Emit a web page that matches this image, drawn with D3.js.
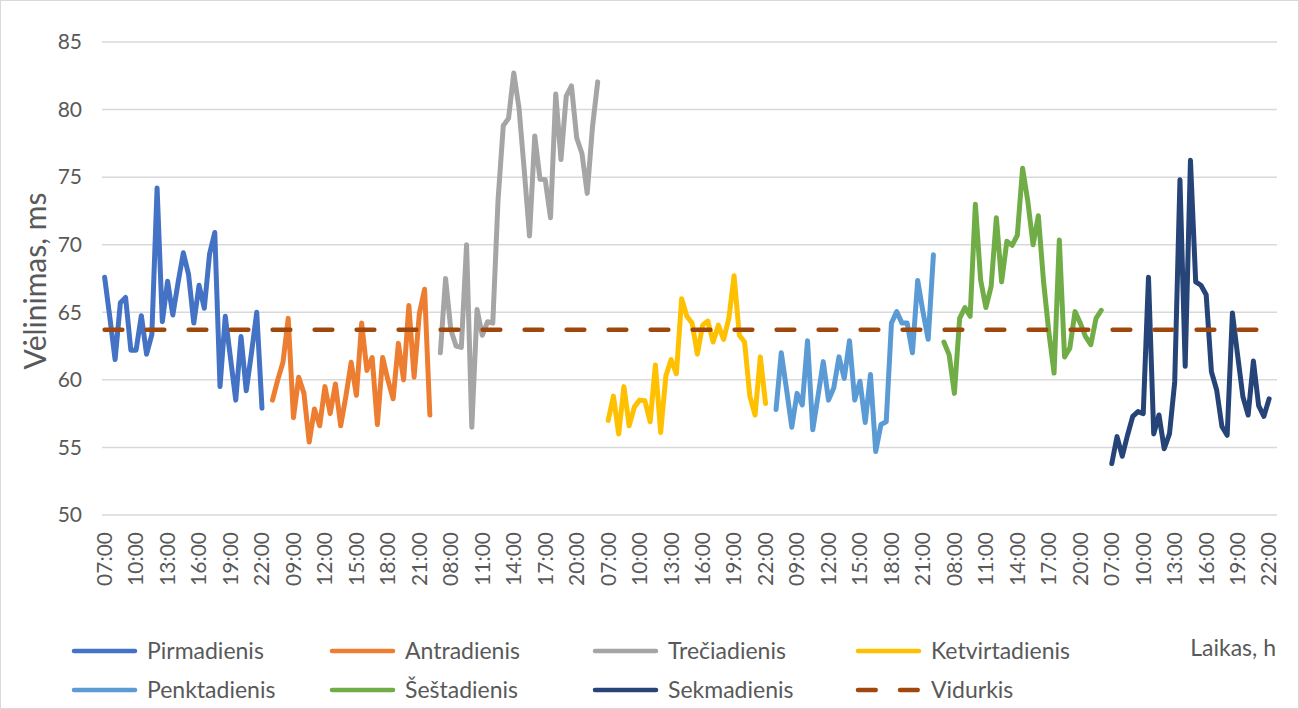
<!DOCTYPE html>
<html>
<head>
<meta charset="utf-8">
<script src="https://cdn.jsdelivr.net/npm/d3@7"></script>
<style>
  html, body { margin: 0; padding: 0; background: #fff; }
  svg { display: block; }
  text { font-family: Lato, "Noto Sans", sans-serif; fill: #595959; }
</style>
</head>
<body>
<svg id="chart" width="1299" height="709"></svg>
<script>
// Half-hour slots of one day, 07:00 .. 22:30
const slots = ["07:00","07:30","08:00","08:30","09:00","09:30","10:00","10:30",
  "11:00","11:30","12:00","12:30","13:00","13:30","14:00","14:30",
  "15:00","15:30","16:00","16:30","17:00","17:30","18:00","18:30",
  "19:00","19:30","20:00","20:30","21:00","21:30","22:00","22:30"];

const days = ["Pirmadienis","Antradienis","Trečiadienis","Ketvirtadienis",
  "Penktadienis","Šeštadienis","Sekmadienis"];

const dayColors = ["#4472C4","#ED7D31","#A5A5A5","#FFC000","#5B9BD5","#70AD47","#264478"];

// Delay (ms) per half hour, 07:00 .. 22:00
const pirmadienis = [67.6,64.6,61.5,65.7,66.1,62.2,62.2,64.75,61.9,63.35,74.2,64.3,67.3,64.8,67.2,69.4,
  67.8,64.2,67.0,65.3,69.3,70.9,59.5,64.7,61.6,58.5,63.2,59.2,62.0,65.0,57.9];
const antradienis = [58.5,60.0,61.3,64.55,57.2,60.2,59.0,55.4,57.85,56.6,59.5,57.5,59.7,56.6,58.8,61.3,
  58.85,64.2,60.7,61.65,56.7,61.65,60.0,58.6,62.7,60.0,65.5,60.2,64.9,66.7,57.4];
const treciadienis = [62.0,67.5,63.7,62.5,62.4,70.0,56.5,65.2,63.3,64.3,64.2,73.3,78.8,79.35,82.7,80.1,
  75.5,70.65,78.05,74.85,74.8,72.0,81.15,76.3,81.0,81.75,77.9,76.75,73.8,78.7,82.05];
const ketvirtadienis = [57.0,58.8,56.0,59.5,56.6,58.0,58.5,58.45,56.9,61.1,56.1,60.3,61.5,60.45,66.0,64.7,
  64.2,61.9,64.05,64.35,62.8,64.05,63.0,64.55,67.7,63.3,62.8,58.8,57.4,61.7,58.25];
const penktadienis = [57.8,62.0,59.3,56.5,59.0,58.15,62.9,56.3,58.8,61.35,58.5,59.4,61.7,60.1,62.9,58.5,
  59.9,56.85,60.4,54.7,56.7,56.9,64.2,65.05,64.2,64.2,62.0,67.35,65.05,63.0,69.25];
const sestadienis = [62.8,61.85,59.0,64.55,65.35,64.7,73.0,67.4,65.35,66.9,72.0,67.25,70.25,69.95,70.7,75.65,
  73.2,70.0,72.15,67.25,63.55,60.5,70.35,61.7,62.35,65.05,64.2,63.2,62.6,64.55,65.15];
const sekmadienis = [53.8,55.8,54.35,55.9,57.3,57.65,57.5,67.6,56.0,57.4,54.9,56.0,59.85,74.8,61.0,76.25,
  67.25,67.0,66.3,60.6,59.25,56.55,55.9,64.95,61.8,58.75,57.4,61.4,58.1,57.3,58.6];

const seriesValues = [pirmadienis, antradienis, treciadienis, ketvirtadienis,
  penktadienis, sestadienis, sekmadienis];

// Overall average
const vidurkis = 63.7;

const yTicks = [50,55,60,65,70,75,80,85];
const tickEvery = 6;

// ---------------------------------------------------------------
const svg = d3.select("#chart");
const W = 1299, H = 709;
const plot = { left: 102, right: 1277, top: 42, bottom: 515 };

svg.append("rect").attr("x",0.5).attr("y",0.5).attr("width",W-1).attr("height",H-1)
  .attr("fill","#fff").attr("stroke","#D9D9D9").attr("stroke-width",1);

// Category keys: day|slot
const categories = [];
days.forEach(d => slots.forEach(s => categories.push(d + "|" + s)));

const x = d3.scaleBand().domain(categories).range([plot.left, plot.right]).padding(0);
const cx = k => x(k) + x.bandwidth() / 2;
const y = d3.scaleLinear().domain([50,85]).range([plot.bottom, plot.top]);

// Horizontal gridlines
svg.append("g").selectAll("line").data(yTicks).join("line")
  .attr("x1", plot.left).attr("x2", plot.right)
  .attr("y1", d => y(d)).attr("y2", d => y(d))
  .attr("stroke", "#D9D9D9").attr("stroke-width", 1.5);

// Y axis labels
svg.append("g").selectAll("text").data(yTicks).join("text")
  .attr("x", 82).attr("y", d => y(d)).attr("dy","0.35em")
  .attr("text-anchor","end").style("font-size","21px").text(d => d);

// X axis labels (every third hour)
const xAxis = d3.axisBottom(x)
  .tickValues(categories.filter((d,i) => i % tickEvery === 0))
  .tickFormat(d => d.split("|")[1]).tickSize(0);
const gx = svg.append("g").attr("transform", `translate(0,${plot.bottom})`).call(xAxis);
gx.select(".domain").remove();
gx.selectAll("text")
  .attr("transform","rotate(-90)")
  .attr("x", -17).attr("y", 0).attr("dy","0.35em")
  .attr("text-anchor","end")
  .style("font-family","Lato, sans-serif").style("font-size","21px").attr("fill","#595959");

// Day series
const line = d3.line().x(d => cx(d.key)).y(d => y(d.v));
seriesValues.forEach((vals, di) => {
  const pts = vals.map((v, i) => ({ key: days[di] + "|" + slots[i], v }));
  svg.append("path").datum(pts)
    .attr("d", line)
    .attr("fill","none").attr("stroke", dayColors[di])
    .attr("stroke-width", 5).attr("stroke-linejoin","round").attr("stroke-linecap","round");
});

// Average line across all categories
const avgPts = categories.map(k => ({ key: k, v: vidurkis }));
svg.append("path").datum(avgPts)
  .attr("d", line)
  .attr("fill","none").attr("stroke","#9E480E").attr("stroke-width",4.5)
  .attr("stroke-linecap","round").attr("stroke-dasharray","17.7,24.3");

// Axis titles
svg.append("text")
  .attr("transform","translate(35,281) rotate(-90)")
  .attr("text-anchor","middle").attr("dy","0.35em")
  .style("font-size","30px").text("Vėlinimas, ms");
svg.append("text")
  .attr("x", 1276).attr("y", 648).attr("dy","0.35em")
  .attr("text-anchor","end").style("font-size","23px").text("Laikas, h");

// Legend
const legendItems = days.map((d,i) => ({ name: d, color: dayColors[i], dashed: false }))
  .concat([{ name: "Vidurkis", color: "#9E480E", dashed: true }]);
const colX = [72, 330, 593, 856];
const rowY = [651, 690];
const lg = svg.append("g");
legendItems.forEach((it, i) => {
  const c = i % 4, r = Math.floor(i / 4);
  const g = lg.append("g").attr("transform", `translate(${colX[c]},${rowY[r]})`);
  g.append("line").attr("x1", 2).attr("x2", 63).attr("y1", 0).attr("y2", 0)
    .attr("stroke", it.color).attr("stroke-width", 4.5).attr("stroke-linecap","round")
    .attr("stroke-dasharray", it.dashed ? "17.7,24.3" : null);
  g.append("text").attr("x", 75).attr("y", 0).attr("dy","0.35em")
    .style("font-size","23px").text(it.name);
});
</script>
</body>
</html>
